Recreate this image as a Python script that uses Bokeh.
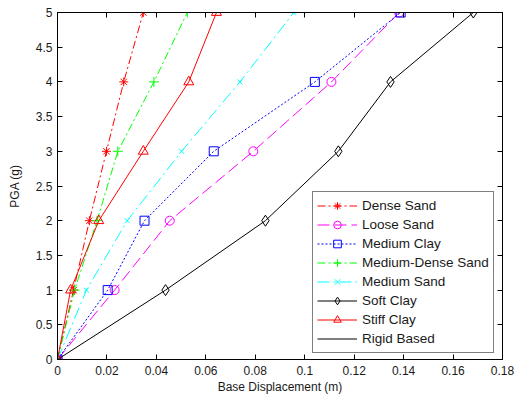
from bokeh.plotting import figure
from bokeh.models import (FixedTicker, LinearAxis, Legend, LegendItem, Range1d,
                          CustomLabelingPolicy)
from bokeh.embed import file_html
from bokeh.resources import INLINE

pga = [0, 1, 2, 3, 4, 5]
dense_sand = [0, 0.0065, 0.0129, 0.0198, 0.0268, 0.0347]
loose_sand = [0, 0.0231, 0.0454, 0.0792, 0.1108, 0.1382]
medium_clay = [0, 0.0203, 0.0352, 0.0632, 0.1041, 0.1388]
medium_dense_sand = [0, 0.0069, 0.0160, 0.0244, 0.0390, 0.0525]
medium_sand = [0, 0.0117, 0.0282, 0.0502, 0.0738, 0.0956]
soft_clay = [0, 0.0437, 0.0841, 0.1136, 0.1347, 0.1682]
stiff_clay = [0, 0.0053, 0.0167, 0.0347, 0.0531, 0.0643]
rigid_based = [0, 0, 0, 0, 0, 0]

x_ticks = [0, 0.02, 0.04, 0.06, 0.08, 0.10, 0.12, 0.14, 0.16, 0.18]
x_tick_labels = ["0", "0.02", "0.04", "0.06", "0.08", "0.1", "0.12", "0.14", "0.16", "0.18"]
y_ticks = [0, 0.5, 1, 1.5, 2, 2.5, 3, 3.5, 4, 4.5, 5]
y_tick_labels = ["0", "0.5", "1", "1.5", "2", "2.5", "3", "3.5", "4", "4.5", "5"]

FONT = "Liberation Sans"

p = figure(width=527, height=400, output_backend="svg", toolbar_location=None,
           x_range=Range1d(0, 0.18), y_range=Range1d(0, 5),
           min_border_left=57, min_border_right=25, min_border_top=12, min_border_bottom=41)
p.xgrid.visible = False
p.ygrid.visible = False
p.outline_line_color = "black"
p.outline_line_width = 1
p.background_fill_color = "white"
p.border_fill_color = "white"

for ax, ticks, labels in ((p.xaxis[0], x_ticks, x_tick_labels), (p.yaxis[0], y_ticks, y_tick_labels)):
    ax.ticker = FixedTicker(ticks=ticks)
    ax.major_label_overrides = {t: l for t, l in zip(ticks, labels)}
    ax.minor_tick_line_color = None
    ax.major_tick_in = 5
    ax.major_tick_out = 0
    ax.major_label_text_font = FONT
    ax.major_label_text_font_size = "12px"
    ax.major_label_text_color = "#1a1a1a"
    ax.axis_label_text_font = FONT
    ax.axis_label_text_font_size = "12px"
    ax.axis_label_text_font_style = "normal"
    ax.axis_label_text_color = "#1a1a1a"
    ax.axis_line_color = "black"
    ax.major_tick_line_color = "black"

p.xaxis[0].axis_label = "Base Displacement (m)"
p.yaxis[0].axis_label = "PGA (g)"
p.xaxis[0].major_label_standoff = 6
p.xaxis[0].axis_label_standoff = 2
p.yaxis[0].major_label_standoff = 5
p.yaxis[0].axis_label_standoff = 11

no_labels = CustomLabelingPolicy(code="""
try {
  if (indices && typeof indices.unset === "function") {
    for (const i of Array.from(indices)) indices.unset(i)
    return indices
  }
} catch (e) {}
return []
""")

for loc, ticks in (("above", x_ticks), ("right", y_ticks)):
    ax = LinearAxis(ticker=FixedTicker(ticks=ticks), major_label_policy=no_labels)
    ax.major_label_text_font_size = "1px"
    ax.major_label_standoff = 0
    ax.minor_tick_line_color = None
    ax.major_tick_in = 5
    ax.major_tick_out = 0
    p.add_layout(ax, loc)

series = [
    ("Dense Sand", dense_sand, "#ff0000", "8 3 2 3", "asterisk", 9),
    ("Loose Sand", loose_sand, "#ff00ff", "12 5", "circle", 9),
    ("Medium Clay", medium_clay, "#0000ff", "2 2", "square", 9),
    ("Medium-Dense Sand", medium_dense_sand, "#00ff00", "8 3 2 3", "cross", 10),
    ("Medium Sand", medium_sand, "#00ffff", "12 4 2 4", "x", 7),
    ("Soft Clay", soft_clay, "#000000", "solid", "diamond", 11),
    ("Stiff Clay", stiff_clay, "#ff0000", "solid", "triangle", 10),
]

items = []
for name, xs, color, dash, marker, size in series:
    ln = p.line(xs, pga, line_color=color, line_dash=dash, line_width=1)
    sc = p.scatter(xs, pga, marker=marker, size=size, line_color=color,
                   fill_color=None, line_width=1)
    items.append(LegendItem(label=name, renderers=[ln, sc]))

rb = p.line(rigid_based, pga, line_color="black", line_width=1)
items.append(LegendItem(label="Rigid Based", renderers=[rb]))

legend = Legend(items=items, location=(255, 6), orientation="vertical",
                label_text_font=FONT, label_text_font_size="13.5px",
                label_text_color="#1a1a1a",
                glyph_width=40, glyph_height=19, label_height=19, spacing=0,
                padding=4, margin=0, label_standoff=5,
                border_line_color="black", border_line_width=1,
                background_fill_color="white", background_fill_alpha=1)
p.add_layout(legend, "center")

open("out.html", "w").write(file_html(p, INLINE))
